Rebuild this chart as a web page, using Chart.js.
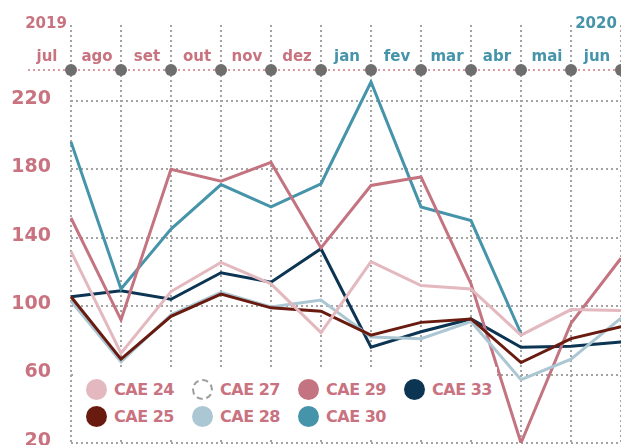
<!DOCTYPE html>
<html>
<head>
<meta charset="utf-8">
<script src="https://cdn.jsdelivr.net/npm/chart.js@4"></script>
<style>
  html, body { margin: 0; background: #fff; }
  #wrap { position: relative; width: 621px; height: 445px; }
  #legend {
    position: absolute; left: 75px; top: 367px; width: 422px; height: 70px;
    box-sizing: border-box; padding: 9px 0 0 11px; background: #fff;
    display: grid; grid-template-columns: repeat(4, 106px); grid-template-rows: 27px 27px;
    grid-auto-flow: column;
    font: bold 16px "DejaVu Sans"; letter-spacing: -0.5px; color: #c8737f;
  }
  .item { display: flex; align-items: center; white-space: nowrap; }
  .dot { width: 21px; height: 21px; border-radius: 50%; margin-right: 7px; box-sizing: border-box; flex: none; }
</style>
</head>
<body>
<div id="wrap"><canvas id="chart"></canvas><div id="legend"></div></div>
<script>
// Monthly index per CAE, Jul 2019 -> Jun 2020.
const months = ["jul", "ago", "set", "out", "nov", "dez", "jan", "fev", "mar", "abr", "mai", "jun"];
const years = ["2019", "", "", "", "", "", "", "", "", "", "", "2020"];
const yTicks = [20, 60, 100, 140, 180, 220];

const cae24 = [132, 72.5, 108.5, 125.5, 113, 84.5, 126, 112, 110, 83, 98, 97.5];
const cae25 = [105.5, 69, 94, 107, 99, 97, 83, 90.5, 92.5, 67, 81, 88];
const cae27 = [null, null, null, null, null, null, null, null, null, null, null, null];
const cae28 = [103, 67.5, 95, 108, 99.5, 103.5, 82, 81, 91, 57, 69, 93];
const cae29 = [151.5, 92, 180, 173, 184, 134, 170.5, 175.5, 113, 20, 90, 128];
const cae30 = [196, 110, 145, 171, 158, 171.5, 231, 158, 150, 84, null, null];
const cae33 = [105.5, 109, 104, 119.5, 114, 133.5, 76, 85, 92.5, 76, 76.5, 79];

const seriesNames = ["CAE 24", "CAE 25", "CAE 27", "CAE 28", "CAE 29", "CAE 30", "CAE 33"];
const seriesData = [cae24, cae25, cae27, cae28, cae29, cae30, cae33];
const seriesColors = ["#e3b8be", "#6a1b10", "#9b9b9b", "#abc7d4", "#c47480", "#4594aa", "#0c3453"];

const PINK = "#c8737f";
const TEAL = "#4594aa";
const GRID = "#a3a3a3";
const FONT = "DejaVu Sans";

// pink dotted axis line along the top, with grey dots on each month line
const axisDots = {
  id: "axisDots",
  afterDraw(chart) {
    const { ctx, chartArea, scales } = chart;
    const x = scales.x;
    const y = chartArea.top;
    ctx.save();
    ctx.strokeStyle = "#d99aa4";
    ctx.lineWidth = 2;
    ctx.setLineDash([2, 3]);
    ctx.beginPath();
    ctx.moveTo(chartArea.left - 43, y);
    ctx.lineTo(chartArea.right, y);
    ctx.stroke();
    ctx.setLineDash([]);
    ctx.fillStyle = "#6e6e6e";
    x.ticks.forEach((t, i) => {
      ctx.beginPath();
      ctx.arc(x.getPixelForTick(i), y, 6, 0, Math.PI * 2);
      ctx.fill();
    });
    ctx.restore();
  },
};

new Chart(document.getElementById("chart"), {
  type: "line",
  data: {
    labels: months,
    datasets: seriesNames.map((name, i) => ({
      label: name,
      data: seriesData[i],
      borderColor: seriesColors[i],
      borderWidth: 3,
      pointRadius: 0,
      tension: 0,
      spanGaps: false,
    })),
  },
  options: {
    responsive: true,
    maintainAspectRatio: false,
    animation: false,
    layout: { padding: { top: 0, right: 0, bottom: 2, left: 0 } },
    plugins: { legend: { display: false }, tooltip: { enabled: false } },
    scales: {
      x: {
        position: "top",
        offset: false,
        grid: { color: GRID, lineWidth: 2, tickLength: 45, tickColor: GRID, tickWidth: 2, tickBorderDash: [2, 3] },
        border: { display: false, dash: [2, 3] },
        ticks: {
          autoSkip: false, maxRotation: 0, labelOffset: -24, padding: -41,
          color: (c) => (c.index < 6 ? PINK : TEAL),
          font: { family: FONT, size: 15, weight: "bold" },
        },
        afterFit: (s) => { s.height = 40; s.paddingLeft = 0; s.paddingRight = 0; },
      },
      x2: {
        type: "category",
        labels: years,
        position: "top",
        offset: false,
        grid: { display: false, drawTicks: false },
        border: { display: false },
        ticks: {
          autoSkip: false, maxRotation: 0, labelOffset: -25, padding: -3,
          color: (c) => (c.index < 6 ? PINK : TEAL),
          font: { family: FONT, size: 15, weight: "bold" },
        },
        afterFit: (s) => { s.height = 30; s.paddingLeft = 0; s.paddingRight = 0; },
      },
      y: {
        min: 20,
        max: 238,
        grid: { color: GRID, lineWidth: 2, drawTicks: false },
        border: { display: false, dash: [2, 3] },
        ticks: {
          padding: 20, labelOffset: -2,
          color: PINK,
          font: { family: FONT, size: 19, weight: "bold" },
        },
        afterBuildTicks: (s) => { s.ticks = yTicks.map((v) => ({ value: v })); },
        afterFit: (s) => { s.width = 71; s.paddingTop = 0; s.paddingBottom = 0; },
      },
    },
  },
  plugins: [axisDots],
});

// legend overlay, same names/colours as the datasets
const legendEl = document.getElementById("legend");
seriesNames.forEach((name, i) => {
  const item = document.createElement("div");
  item.className = "item";
  const dot = document.createElement("span");
  dot.className = "dot";
  if (seriesData[i].every((v) => v === null)) {
    dot.style.border = "2px dashed " + seriesColors[i];
    dot.style.background = "#fff";
  } else {
    dot.style.background = seriesColors[i];
  }
  item.appendChild(dot);
  item.appendChild(document.createTextNode(name));
  legendEl.appendChild(item);
});
</script>
</body>
</html>
